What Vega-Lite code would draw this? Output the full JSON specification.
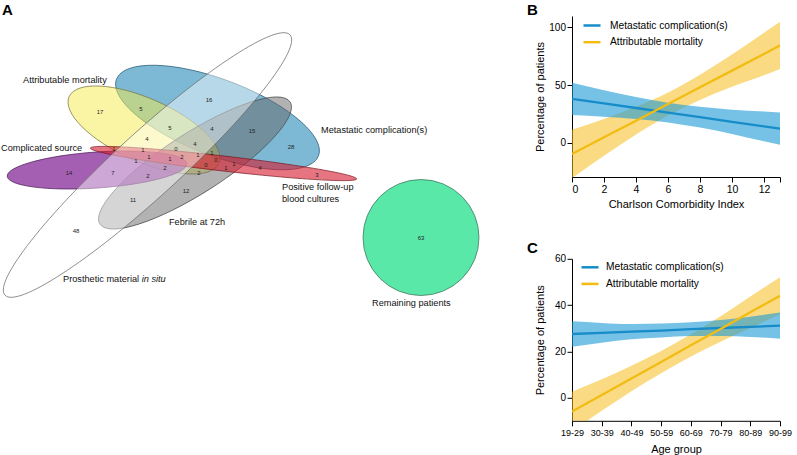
{
  "$schema": "https://vega.github.io/schema/vega-lite/v6.json",
  "padding": {"left": 0, "top": 2, "right": 0, "bottom": 0},
  "background": "white",
  "config": {
    "font": "Liberation Sans",
    "view": {"stroke": null},
    "axis": {"domainColor": "#000", "tickColor": "#000", "labelColor": "#000", "titleColor": "#000", "titleFontWeight": "normal", "grid": false, "tickSize": 5, "labelFont": "Liberation Sans", "titleFont": "Liberation Sans", "titleFontSize": 11, "labelFontSize": 10.5},
    "title": {"font": "Liberation Sans", "fontSize": 15, "fontWeight": "bold", "anchor": "start", "offset": -2.4, "color": "#000"},
    "legend": {"labelFont": "Liberation Sans", "labelColor": "#000", "labelFontSize": 10.2, "labelLimit": 300}
  },
  "datasets": {
    "ellipses": [
      {"set": "Metastatic complication(s)", "x": 217.5, "y": 115.5, "a": 108, "tilt": 20.8},
      {"set": "Attributable mortality", "x": 144, "y": 128, "a": 82, "tilt": 24},
      {"set": "Febrile at 72h", "x": 195, "y": 161, "a": 113, "tilt": -32.7},
      {"set": "Complicated source", "x": 97, "y": 168, "a": 90, "tilt": -4},
      {"set": "Positive follow-up blood cultures", "x": 223.5, "y": 161.5, "a": 134, "tilt": 6.6},
      {"set": "Prosthetic material in situ", "x": 147.5, "y": 163, "a": 193, "tilt": -42.4},
      {"set": "Remaining patients", "x": 421, "y": 235.5, "a": 58, "tilt": 0}
    ],
    "counts": [
      {"n": 17, "x": 100, "y": 110}, {"n": 5, "x": 141, "y": 107}, {"n": 16, "x": 209, "y": 98},
      {"n": 5, "x": 170, "y": 126}, {"n": 4, "x": 212, "y": 127}, {"n": 15, "x": 252, "y": 129},
      {"n": 4, "x": 147, "y": 137}, {"n": 4, "x": 195, "y": 142}, {"n": 28, "x": 291, "y": 145},
      {"n": 1, "x": 114, "y": 147}, {"n": 1, "x": 143, "y": 148}, {"n": 0, "x": 176, "y": 147},
      {"n": 1, "x": 212, "y": 151}, {"n": 1, "x": 149, "y": 155}, {"n": 1, "x": 170, "y": 157},
      {"n": 2, "x": 182, "y": 155}, {"n": 1, "x": 198, "y": 153}, {"n": 0, "x": 216, "y": 158},
      {"n": 1, "x": 136, "y": 159}, {"n": 0, "x": 206, "y": 163}, {"n": 1, "x": 226, "y": 166},
      {"n": 1, "x": 234, "y": 162}, {"n": 4, "x": 260, "y": 166}, {"n": 3, "x": 317, "y": 173},
      {"n": 14, "x": 69, "y": 171}, {"n": 7, "x": 113, "y": 171}, {"n": 2, "x": 165, "y": 166},
      {"n": 2, "x": 148, "y": 174}, {"n": 2, "x": 199, "y": 171}, {"n": 12, "x": 186, "y": 189},
      {"n": 11, "x": 133, "y": 198}, {"n": 48, "x": 76, "y": 229}, {"n": 63, "x": 421, "y": 236}
    ],
    "setlabels": [
      {"label": "Attributable mortality", "x": 23, "y": 78},
      {"label": "Metastatic complication(s)", "x": 321, "y": 128},
      {"label": "Complicated source", "x": 1, "y": 146},
      {"label": "Positive follow-up", "x": 282, "y": 185},
      {"label": "blood cultures", "x": 282, "y": 197},
      {"label": "Febrile at 72h", "x": 169, "y": 220},
      {"label": "Prosthetic material", "x": 63, "y": 277},
      {"label": "Remaining patients", "x": 372, "y": 301}
    ],
    "italiclabels": [
      {"label": "in situ", "x": 141.7, "y": 277}
    ],
    "cci": [
      {"series": "Metastatic complication(s)", "cci": 0, "fit": 38, "lo": 24, "hi": 52},
      {"series": "Metastatic complication(s)", "cci": 2, "fit": 34, "lo": 22.5, "hi": 45.5},
      {"series": "Metastatic complication(s)", "cci": 4, "fit": 30, "lo": 20.5, "hi": 39.5},
      {"series": "Metastatic complication(s)", "cci": 6, "fit": 26, "lo": 17.5, "hi": 34.5},
      {"series": "Metastatic complication(s)", "cci": 8, "fit": 22, "lo": 13, "hi": 31},
      {"series": "Metastatic complication(s)", "cci": 10, "fit": 18, "lo": 7.5, "hi": 28.5},
      {"series": "Metastatic complication(s)", "cci": 12, "fit": 14, "lo": 1, "hi": 27},
      {"series": "Metastatic complication(s)", "cci": 13, "fit": 12, "lo": -2, "hi": 26},
      {"series": "Attributable mortality", "cci": 0, "fit": -10, "lo": -31, "hi": 11},
      {"series": "Attributable mortality", "cci": 2, "fit": 4.5, "lo": -11.5, "hi": 20.5},
      {"series": "Attributable mortality", "cci": 4, "fit": 19, "lo": 7, "hi": 31},
      {"series": "Attributable mortality", "cci": 6, "fit": 33.5, "lo": 23.5, "hi": 43.5},
      {"series": "Attributable mortality", "cci": 8, "fit": 48, "lo": 37, "hi": 59},
      {"series": "Attributable mortality", "cci": 10, "fit": 62.5, "lo": 48.5, "hi": 76.5},
      {"series": "Attributable mortality", "cci": 12, "fit": 77, "lo": 58.5, "hi": 95.5},
      {"series": "Attributable mortality", "cci": 13, "fit": 84.5, "lo": 64, "hi": 105}
    ],
    "age": [
      {"series": "Metastatic complication(s)", "age": "19-29", "fit": 27.5, "lo": 22, "hi": 33},
      {"series": "Metastatic complication(s)", "age": "30-39", "fit": 28, "lo": 23.7, "hi": 32.3},
      {"series": "Metastatic complication(s)", "age": "40-49", "fit": 28.5, "lo": 25.2, "hi": 31.8},
      {"series": "Metastatic complication(s)", "age": "50-59", "fit": 29, "lo": 26, "hi": 32},
      {"series": "Metastatic complication(s)", "age": "60-69", "fit": 29.6, "lo": 26.6, "hi": 32.6},
      {"series": "Metastatic complication(s)", "age": "70-79", "fit": 30.1, "lo": 26.6, "hi": 33.6},
      {"series": "Metastatic complication(s)", "age": "80-89", "fit": 30.6, "lo": 26.2, "hi": 35},
      {"series": "Metastatic complication(s)", "age": "90-99", "fit": 31.1, "lo": 25.5, "hi": 36.8},
      {"series": "Attributable mortality", "age": "19-29", "fit": -6, "lo": -14.5, "hi": 2.5},
      {"series": "Attributable mortality", "age": "30-39", "fit": 1.1, "lo": -5.7, "hi": 7.9},
      {"series": "Attributable mortality", "age": "40-49", "fit": 8.3, "lo": 2.8, "hi": 13.8},
      {"series": "Attributable mortality", "age": "50-59", "fit": 15.4, "lo": 10.6, "hi": 20.2},
      {"series": "Attributable mortality", "age": "60-69", "fit": 22.6, "lo": 17.8, "hi": 27.4},
      {"series": "Attributable mortality", "age": "70-79", "fit": 29.7, "lo": 24.2, "hi": 35.2},
      {"series": "Attributable mortality", "age": "80-89", "fit": 36.9, "lo": 30.1, "hi": 43.7},
      {"series": "Attributable mortality", "age": "90-99", "fit": 44, "lo": 36, "hi": 52}
    ]
  },
  "spacing": 12,
  "resolve": {
    "scale": {"x": "independent", "y": "independent", "color": "independent", "fill": "independent", "stroke": "independent", "shape": "independent", "size": "independent"},
    "legend": {"color": "independent", "fill": "independent", "stroke": "independent", "shape": "independent", "size": "independent"}
  },
  "hconcat": [
    {
      "width": 515,
      "height": 300,
      "title": {"text": "A", "frame": "group", "dx": 2},
      "layer": [
        {
          "data": {"name": "ellipses"},
          "mark": {"type": "point", "filled": true, "opacity": 1, "strokeWidth": 0.7, "strokeOpacity": 1},
          "encoding": {
            "x": {"field": "x", "type": "quantitative", "scale": {"domain": [0, 515], "nice": false, "zero": false}, "axis": null},
            "y": {"field": "y", "type": "quantitative", "scale": {"domain": [14, 314], "nice": false, "zero": false, "reverse": true}, "axis": null},
            "shape": {"field": "set", "type": "nominal", "legend": null, "scale": {
              "domain": ["Metastatic complication(s)", "Attributable mortality", "Febrile at 72h", "Complicated source", "Positive follow-up blood cultures", "Prosthetic material in situ", "Remaining patients"],
              "range": [
                "M1,0C1,0.194 0.552,0.352 0,0.352C-0.552,0.352 -1,0.194 -1,0C-1,-0.194 -0.552,-0.352 0,-0.352C0.552,-0.352 1,-0.194 1,0Z",
                "M1,0C1,0.212 0.552,0.384 0,0.384C-0.552,0.384 -1,0.212 -1,0C-1,-0.212 -0.552,-0.384 0,-0.384C0.552,-0.384 1,-0.212 1,0Z",
                "M1,0C1,0.146 0.552,0.265 0,0.265C-0.552,0.265 -1,0.146 -1,0C-1,-0.146 -0.552,-0.265 0,-0.265C0.552,-0.265 1,-0.146 1,0Z",
                "M1,0C1,0.11 0.552,0.2 0,0.2C-0.552,0.2 -1,0.11 -1,0C-1,-0.11 -0.552,-0.2 0,-0.2C0.552,-0.2 1,-0.11 1,0Z",
                "M1,0C1,0.031 0.552,0.056 0,0.056C-0.552,0.056 -1,0.031 -1,0C-1,-0.031 -0.552,-0.056 0,-0.056C0.552,-0.056 1,-0.031 1,0Z",
                "M1,0C1,0.092 0.552,0.166 0,0.166C-0.552,0.166 -1,0.092 -1,0C-1,-0.092 -0.552,-0.166 0,-0.166C0.552,-0.166 1,-0.092 1,0Z",
                "circle"
              ]}},
            "size": {"field": "a", "type": "quantitative", "legend": null, "scale": {"type": "pow", "exponent": 2, "domain": [0, 200], "range": [0, 160000], "nice": false, "zero": true}},
            "angle": {"field": "tilt", "type": "quantitative", "scale": null},
            "fill": {"field": "set", "type": "nominal", "legend": null, "scale": {
              "domain": ["Metastatic complication(s)", "Attributable mortality", "Febrile at 72h", "Complicated source", "Positive follow-up blood cultures", "Prosthetic material in situ", "Remaining patients"],
              "range": ["rgba(38,138,185,0.6)", "rgba(245,235,75,0.5)", "rgba(101,101,101,0.5)", "rgba(127,27,145,0.7)", "rgba(215,25,45,0.6)", "rgba(255,255,255,0.45)", "rgb(90,232,168)"]}},
            "stroke": {"field": "set", "type": "nominal", "legend": null, "scale": {
              "domain": ["Metastatic complication(s)", "Attributable mortality", "Febrile at 72h", "Complicated source", "Positive follow-up blood cultures", "Prosthetic material in situ", "Remaining patients"],
              "range": ["#2a5d75", "#7d7a45", "#4a4a4a", "#4a1a55", "#7a1a22", "#6a6a6a", "#3a6a55"]}}
          }
        },
        {
          "data": {"name": "counts"},
          "mark": {"type": "text", "fontSize": 6, "color": "#222", "align": "center", "baseline": "middle"},
          "encoding": {
            "x": {"field": "x", "type": "quantitative", "scale": {"domain": [0, 515], "nice": false, "zero": false}, "axis": null},
            "y": {"field": "y", "type": "quantitative", "scale": {"domain": [14, 314], "nice": false, "zero": false, "reverse": true}, "axis": null},
            "text": {"field": "n", "type": "quantitative"}
          }
        },
        {
          "data": {"name": "setlabels"},
          "mark": {"type": "text", "fontSize": 9.2, "color": "#111", "align": "left", "baseline": "middle"},
          "encoding": {
            "x": {"field": "x", "type": "quantitative", "scale": {"domain": [0, 515], "nice": false, "zero": false}, "axis": null},
            "y": {"field": "y", "type": "quantitative", "scale": {"domain": [14, 314], "nice": false, "zero": false, "reverse": true}, "axis": null},
            "text": {"field": "label", "type": "nominal"}
          }
        },
        {
          "data": {"name": "italiclabels"},
          "mark": {"type": "text", "fontSize": 9.2, "fontStyle": "italic", "color": "#111", "align": "left", "baseline": "middle"},
          "encoding": {
            "x": {"field": "x", "type": "quantitative", "scale": {"domain": [0, 515], "nice": false, "zero": false}, "axis": null},
            "y": {"field": "y", "type": "quantitative", "scale": {"domain": [14, 314], "nice": false, "zero": false, "reverse": true}, "axis": null},
            "text": {"field": "label", "type": "nominal"}
          }
        }
      ]
    },
    {
      "spacing": 30.8,
      "resolve": {
        "scale": {"x": "independent", "y": "independent", "color": "independent"},
        "legend": {"color": "independent"}
      },
      "vconcat": [
        {
          "width": 208,
          "height": 161,
          "title": {"text": "B", "frame": "group", "dx": -45},
          "data": {"name": "cci"},
          "encoding": {
            "x": {"field": "cci", "type": "quantitative", "scale": {"domain": [0, 13], "nice": false, "zero": false},
              "axis": {"values": [0, 2, 4, 6, 8, 10, 12, 13], "labelExpr": "datum.value == 13 ? '' : datum.label", "title": "Charlson Comorbidity Index", "labelPadding": 2.4, "titlePadding": 3.5, "labelFontSize": 10.5}}
          },
          "layer": [
            {
              "transform": [{"filter": "datum.series == 'Attributable mortality'"}],
              "mark": {"type": "area", "clip": true, "interpolate": "monotone", "fill": "#f5be1e", "fillOpacity": 0.55},
              "encoding": {
                "y": {"field": "lo", "type": "quantitative", "scale": {"domain": [-30, 110], "nice": false, "zero": false},
                  "axis": {"values": [0, 50, 100], "title": "Percentage of patients", "minExtent": 24, "maxExtent": 24, "titlePadding": 2.5, "labelPadding": 1.5, "labelFontSize": 10}},
                "y2": {"field": "hi"}
              }
            },
            {
              "transform": [{"filter": "datum.series == 'Metastatic complication(s)'"}],
              "mark": {"type": "area", "clip": true, "interpolate": "monotone", "fill": "#1a9ad6", "fillOpacity": 0.6},
              "encoding": {
                "y": {"field": "lo", "type": "quantitative"},
                "y2": {"field": "hi"}
              }
            },
            {
              "mark": {"type": "line", "clip": true, "strokeWidth": 2.3},
              "encoding": {
                "y": {"field": "fit", "type": "quantitative"},
                "color": {"field": "series", "type": "nominal", "scale": {"domain": ["Metastatic complication(s)", "Attributable mortality"], "range": ["#168cc8", "#f2bc12"]},
                  "legend": {"orient": "none", "legendX": 10, "legendY": -0.5, "title": null, "symbolType": "stroke", "symbolSize": 289, "symbolStrokeWidth": 2.5, "labelFontSize": 10.2, "labelFont": "Liberation Sans", "labelOffset": 8, "rowPadding": 0.7, "padding": 0}}
              }
            }
          ]
        },
        {
          "width": 208,
          "height": 162,
          "title": {"text": "C", "frame": "group", "dx": -45},
          "data": {"name": "age"},
          "encoding": {
            "x": {"field": "age", "type": "ordinal", "scale": {"type": "point", "padding": 0},
              "axis": {"labelAngle": 0, "labelFontSize": 9, "title": "Age group", "labelPadding": 2.9, "titlePadding": 6}}
          },
          "layer": [
            {
              "transform": [{"filter": "datum.series == 'Attributable mortality'"}],
              "mark": {"type": "area", "clip": true, "interpolate": "monotone", "fill": "#f5be1e", "fillOpacity": 0.55},
              "encoding": {
                "y": {"field": "lo", "type": "quantitative", "scale": {"domain": [-10, 60], "nice": false, "zero": false},
                  "axis": {"values": [0, 20, 40, 60], "title": "Percentage of patients", "minExtent": 24, "maxExtent": 24, "titlePadding": 2.5, "labelPadding": 1.5, "labelFontSize": 10}},
                "y2": {"field": "hi"}
              }
            },
            {
              "transform": [{"filter": "datum.series == 'Metastatic complication(s)'"}],
              "mark": {"type": "area", "clip": true, "interpolate": "monotone", "fill": "#1a9ad6", "fillOpacity": 0.6},
              "encoding": {
                "y": {"field": "lo", "type": "quantitative"},
                "y2": {"field": "hi"}
              }
            },
            {
              "mark": {"type": "line", "clip": true, "strokeWidth": 2.3},
              "encoding": {
                "y": {"field": "fit", "type": "quantitative"},
                "color": {"field": "series", "type": "nominal", "scale": {"domain": ["Metastatic complication(s)", "Attributable mortality"], "range": ["#168cc8", "#f2bc12"]},
                  "legend": {"orient": "none", "legendX": 8, "legendY": -1.5, "title": null, "symbolType": "stroke", "symbolSize": 289, "symbolStrokeWidth": 2.5, "labelFontSize": 10.2, "labelFont": "Liberation Sans", "labelOffset": 6, "rowPadding": 0.6, "padding": 0}}
              }
            }
          ]
        }
      ]
    }
  ]
}
